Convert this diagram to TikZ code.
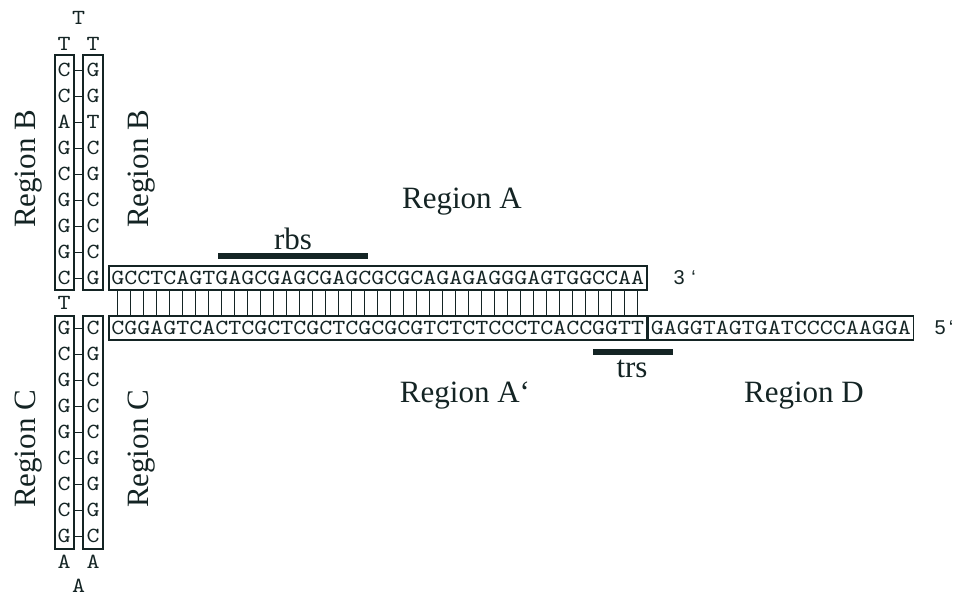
\documentclass[tikz,border=0pt]{standalone}
\usepackage{fontspec}
\setmainfont{Liberation Serif}
\newfontfamily\endsans{Liberation Sans}
\newfontfamily\seqmono[FakeStretch=1.15]{lmmono10-regular.otf}
\usetikzlibrary{positioning,calc}
\definecolor{inkDark}{RGB}{20, 36, 36}
\newcommand{\seqfont}{\seqmono\fontsize{21.53pt}{24pt}\selectfont}

\begin{document}
\begin{tikzpicture}[x=1pt, y=-1pt,
    base/.style={inner sep=0pt, text=inkDark, font=\seqfont},
    strand/.style={draw=inkDark, line width=1.6pt, inner xsep=2.5pt, inner ysep=0pt, minimum height=24pt, text=inkDark, font=\seqfont},
    stembox/.style={draw=inkDark, line width=1.6pt, inner sep=0pt},
    bond/.style={draw=inkDark, line width=1pt},
    region/.style={text=inkDark, font=\fontsize{31pt}{33pt}\selectfont}]
    \useasboundingbox (0,0) rectangle (954,597);

    \node (stemTL) [stembox, minimum width=19pt, minimum height=235pt] at (64.5,172.5) {};
    \node (stemTR) [stembox, minimum width=20pt, minimum height=235pt] at (93,172.5) {};
    \node (stemBL) [stembox, minimum width=19pt, minimum height=233pt] at (64.5,432.5) {};
    \node (stemBR) [stembox, minimum width=20pt, minimum height=233pt] at (93,432.5) {};

    \foreach \b [count=\i] in {C,C,A,G,C,G,G,G,C}
        \node (tl\i) [base] at (64,44+26*\i) {\b};
    \foreach \b [count=\i] in {G,G,T,C,G,C,C,C,G}
        \node (tr\i) [base] at (93,44+26*\i) {\b};
    \foreach \b [count=\i] in {G,C,G,G,G,C,C,C,G}
        \node (bl\i) [base] at (64,302+26*\i) {\b};
    \foreach \b [count=\i] in {C,G,C,C,C,G,G,G,C}
        \node (br\i) [base] at (93,302+26*\i) {\b};

    \foreach \i in {1,...,9} {
        \draw[bond] (stemTL.east |- tl\i) -- (stemTR.west |- tr\i);
        \draw[bond] (stemBL.east |- bl\i) -- (stemBR.west |- br\i);
    }

    \node (loopT1) [base] at (64,44) {T};
    \node (loopT2) [base] at (93,44) {T};
    \node (loopT3) [base] at (78.5,18) {T};
    \node (gapT) [base] at (64,303) {T};
    \node (loopA1) [base] at (64,562) {A};
    \node (loopA2) [base] at (93,562) {A};
    \node (loopA3) [base] at (78.5,586) {A};

    \node (strandTop) [strand, anchor=west] at (108,278) {GCCTCAGTGAGCGAGCGAGCGCGCAGAGAGGGAGTGGCCAA};
    \node (strandBot) [strand, anchor=west] at (108,328) {CGGAGTCACTCGCTCGCTCGCGCGTCTCTCCCTCACCGGTT};
    \node (strandD) [strand, right=0pt of strandBot] {GAGGTAGTGATCCCCAAGGA};

    \foreach \i in {0,...,40}
        \draw[bond] ($(strandTop.south west)+(9+13*\i,0)$) -- ($(strandBot.north west)+(9+13*\i,0)$);

    \node (end3) [anchor=west, text=inkDark, font=\endsans\fontsize{20pt}{22pt}\selectfont] at (670,278) {3\,\,‘};
    \node (end5) [anchor=west, text=inkDark, font=\endsans\fontsize{20pt}{22pt}\selectfont] at (931,328) {5\,‘};

    \node (regB1) [region, rotate=90] at (29,169) {Region B};
    \node (regB2) [region, rotate=90] at (142,169) {Region B};
    \node (regC1) [region, rotate=90] at (29,449) {Region C};
    \node (regC2) [region, rotate=90] at (142,449) {Region C};
    \node (regA) [region, anchor=base] at (462,208) {Region A};
    \node (regA2) [region, anchor=base] at (465,402) {Region A‘};
    \node (regD) [region, anchor=base] at (804,402) {Region D};

    \node (rbs) [region, anchor=base] at (293,249) {rbs};
    \node (trs) [region, anchor=base] at (632,377) {trs};
    \draw[inkDark, line width=5.5pt] (218,256) -- (368,256);
    \draw[inkDark, line width=5.5pt] (593,352) -- (673,352);
\end{tikzpicture}
\end{document}
